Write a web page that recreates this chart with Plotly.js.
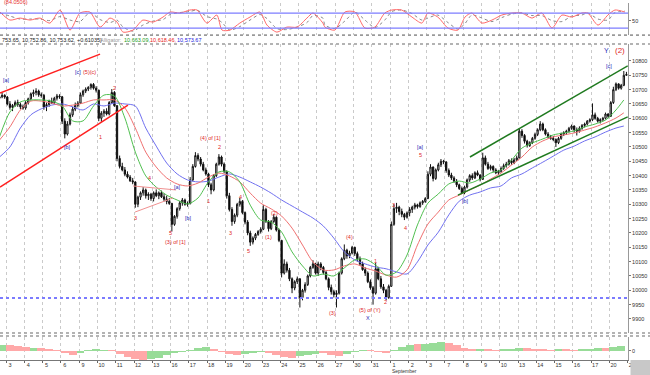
<!DOCTYPE html>
<html><head><meta charset="utf-8">
<script src="https://cdn.plot.ly/plotly-3.0.1.min.js"></script>
<style>html,body{margin:0;padding:0;background:#fff}#chart{width:650px;height:375px}</style>
</head><body><div id="chart"></div>
<script>
// ---------- DATA ----------
// day labels (one per trading day, 7 hourly bars per day), Aug 2 .. Sep 21 2010
const dayLabels = ["2","3","4","5","6","9","10","11","12","13","16","17","18","19","20","23","24","25","26","27","30","31","1","2","3","7","8","9","10","13","14","15","16","17","20","21"];

const open = [
10560,10650,10665,10660,10670,10675,10680,
10674,10650,10638,10645,10655,10648,10640,
10636,10655,10668,10685,10690,10695,10682,
10680,10640,10648,10660,10655,10670,10678,
10675,10590,10545,10580,10612,10632,10645,
10653,10682,10695,10702,10708,10718,10705,
10698,10600,10618,10625,10615,10655,10690,
10644,10460,10432,10420,10405,10395,10382,
10378,10300,10325,10340,10350,10330,10335,
10320,10340,10330,10340,10326,10318,10310,
10303,10230,10258,10285,10305,10315,10300,
10302,10385,10432,10470,10458,10440,10420,
10406,10368,10350,10400,10440,10465,10440,
10415,10330,10282,10240,10262,10300,10310,
10271,10238,10200,10168,10182,10195,10205,
10213,10282,10240,10215,10240,10255,10210,
10174,10060,10092,10070,10040,10008,10030,
10040,9975,10000,10020,10050,10080,10092,
10060,10092,10080,10062,10040,10010,9995,
9985,9990,10060,10110,10140,10120,10130,
10150,10128,10110,10092,10072,10060,10030,
10009,9990,10075,10040,10012,10000,9975,
10014,10230,10285,10290,10275,10265,10255,
10270,10282,10290,10298,10292,10305,10310,
10320,10405,10430,10390,10420,10438,10450,
10448,10418,10402,10392,10380,10368,10355,
10340,10360,10385,10400,10392,10410,10402,
10387,10462,10440,10425,10432,10420,10410,
10415,10425,10435,10440,10452,10445,10455,
10462,10555,10540,10520,10505,10515,10530,
10544,10560,10580,10560,10545,10535,10530,
10526,10515,10530,10545,10550,10555,10565,
10573,10560,10555,10565,10575,10580,10590,
10595,10612,10600,10590,10595,10600,10615,
10607,10655,10700,10720,10705,10715,10750];

const high = [
10655,10670,10668,10675,10682,10690,10684,
10678,10660,10650,10662,10665,10655,10648,
10660,10672,10690,10700,10705,10700,10690,
10685,10655,10665,10672,10675,10685,10684,
10678,10600,10590,10620,10640,10655,10660,
10690,10700,10708,10712,10722,10723,10712,
10700,10625,10632,10635,10660,10702,10695,
10646,10470,10445,10430,10415,10402,10392,
10380,10330,10345,10360,10355,10342,10340,
10345,10352,10345,10348,10338,10330,10322,
10305,10262,10290,10312,10322,10320,10310,
10395,10440,10482,10478,10465,10448,10428,
10410,10375,10405,10445,10475,10470,10446,
10418,10340,10290,10268,10305,10322,10315,
10275,10245,10208,10188,10200,10210,10220,
10297,10288,10245,10245,10265,10258,10215,
10176,10108,10100,10078,10045,10035,10048,
10042,10005,10028,10055,10085,10105,10096,
10100,10098,10085,10068,10045,10020,10002,
10000,10065,10115,10160,10145,10138,10155,
10152,10135,10118,10100,10080,10066,10038,
10015,10095,10082,10050,10022,10005,10020,
10240,10300,10305,10295,10285,10270,10275,
10290,10295,10305,10302,10310,10315,10325,
10415,10440,10432,10425,10445,10458,10455,
10450,10425,10410,10398,10388,10372,10362,
10365,10390,10405,10408,10415,10418,10405,
10480,10470,10448,10438,10436,10426,10420,
10432,10442,10448,10458,10460,10462,10470,
10565,10562,10545,10525,10520,10535,10550,
10565,10590,10585,10565,10552,10542,10538,
10530,10535,10550,10555,10560,10570,10578,
10575,10568,10572,10580,10585,10594,10600,
10652,10620,10605,10600,10605,10620,10618,
10660,10710,10725,10722,10720,10765,10762];

const low = [
10555,10645,10652,10655,10665,10670,10668,
10645,10630,10625,10640,10640,10632,10630,
10630,10648,10662,10675,10680,10675,10672,
10630,10625,10640,10650,10650,10662,10668,
10580,10530,10540,10575,10605,10625,10638,
10650,10675,10688,10695,10700,10700,10690,
10590,10588,10605,10610,10610,10650,10640,
10450,10425,10415,10398,10390,10378,10370,
10288,10290,10315,10330,10320,10315,10312,
10310,10325,10318,10322,10310,10300,10298,
10205,10225,10250,10278,10295,10295,10292,
10300,10380,10428,10450,10432,10415,10400,
10360,10335,10345,10395,10435,10432,10408,
10320,10275,10225,10232,10255,10292,10265,
10230,10192,10155,10160,10175,10190,10198,
10210,10235,10205,10210,10235,10205,10168,
10045,10055,10062,10032,9990,10000,10022,
9940,9965,9992,10015,10045,10075,10055,
10050,10070,10055,10035,10000,9985,9975,
9940,9985,10055,10105,10110,10112,10125,
10120,10100,10085,10068,10050,10025,10002,
9950,9985,10035,10005,9990,9965,9970,
10012,10225,10270,10262,10255,10245,10250,
10258,10270,10282,10285,10288,10298,10305,
10318,10398,10380,10385,10415,10430,10440,
10410,10395,10385,10375,10360,10350,10336,
10335,10355,10378,10385,10388,10398,10380,
10385,10435,10420,10418,10412,10405,10402,
10410,10420,10428,10435,10438,10440,10450,
10460,10532,10512,10498,10500,10510,10525,
10538,10555,10555,10540,10530,10525,10520,
10500,10510,10525,10538,10542,10550,10560,
10550,10540,10550,10560,10568,10575,10585,
10590,10595,10585,10582,10590,10596,10600,
10605,10650,10695,10700,10700,10712,10748];

const close = [
10650,10665,10660,10670,10675,10680,10674,
10650,10638,10645,10655,10648,10640,10636,
10655,10668,10685,10690,10695,10682,10680,
10640,10648,10660,10655,10670,10678,10675,
10590,10545,10580,10612,10632,10645,10653,
10682,10695,10702,10708,10718,10705,10698,
10600,10618,10625,10615,10655,10690,10644,
10460,10432,10420,10405,10395,10382,10378,
10300,10325,10340,10350,10330,10335,10320,
10340,10330,10340,10326,10318,10310,10303,
10230,10258,10285,10305,10315,10300,10302,
10385,10432,10470,10458,10440,10420,10406,
10368,10350,10400,10440,10465,10440,10415,
10330,10282,10240,10262,10300,10310,10271,
10238,10200,10168,10182,10195,10205,10213,
10282,10240,10215,10240,10255,10210,10174,
10060,10092,10070,10040,10008,10030,10040,
9975,10000,10020,10050,10080,10092,10060,
10092,10080,10062,10040,10010,9995,9985,
9990,10060,10110,10140,10120,10130,10150,
10128,10110,10092,10072,10060,10030,10009,
9990,10075,10040,10012,10000,9975,10014,
10230,10285,10290,10275,10265,10255,10270,
10282,10290,10298,10292,10305,10310,10320,
10405,10430,10390,10420,10438,10450,10448,
10418,10402,10392,10380,10368,10355,10340,
10360,10385,10400,10392,10410,10402,10387,
10462,10440,10425,10432,10420,10410,10415,
10425,10435,10440,10452,10445,10455,10462,
10555,10540,10520,10505,10515,10530,10544,
10560,10580,10560,10545,10535,10530,10526,
10515,10530,10545,10550,10555,10565,10573,
10560,10555,10565,10575,10580,10590,10595,
10612,10600,10590,10595,10600,10615,10607,
10655,10700,10720,10705,10715,10750,10753];

// Alligator lines, sampled every 4 bars (bar index)
const maX = [4,8,12,16,20,24,28,32,36,40,44,48,52,56,60,64,68,72,76,80,84,88,92,96,100,104,108,112,116,120,124,128,132,136,140,144,148,152,156,160,164,168,172,176,180,184,188,192,196,200,204,208,212,216,220,224,228,232,236,240,243];
const jaw = [10465,10500,10566,10612,10633,10646,10650,10640,10629,10650,10643,10653,10650,10643,10566,10503,10444,10406,10385,10378,10381,10395,10406,10395,10378,10360,10339,10315,10294,10273,10252,10224,10182,10134,10106,10092,10081,10075,10064,10057,10099,10158,10203,10263,10311,10332,10343,10357,10364,10392,10406,10427,10447,10468,10489,10503,10521,10535,10552,10566,10573];
const teeth = [10524,10570,10629,10660,10660,10653,10643,10646,10653,10664,10664,10664,10636,10566,10482,10430,10392,10371,10364,10374,10395,10409,10399,10378,10339,10304,10284,10259,10217,10158,10099,10071,10071,10085,10092,10078,10067,10053,10046,10071,10158,10231,10273,10315,10332,10350,10367,10388,10409,10437,10465,10500,10521,10535,10542,10549,10559,10570,10584,10601,10619];
const lips = [10535,10622,10657,10664,10664,10660,10643,10591,10591,10643,10681,10678,10601,10482,10399,10360,10332,10315,10301,10322,10378,10413,10413,10378,10297,10245,10238,10203,10134,10085,10050,10057,10050,10078,10106,10109,10088,10053,10064,10123,10228,10304,10336,10371,10381,10374,10388,10409,10420,10454,10496,10514,10528,10542,10549,10556,10570,10580,10594,10629,10664];

// Stochastic panel
const stochX = [4.2,8,11.9,15.7,19.5,23.3,27.2,31,34.8,38.6,42.5,46.3,49,51.3,55.1,58.9,62.8,66.6,69.3,73.1,76.9,79.6,83.4,87.2,89.2,92.2,96,99.9,103.7,106.4,110.2,114,117.9,121.7,124,127.8,128.6,132.4,136.2,140.1,143.9,147.7,151.5,154.2,158,161.9,165.7,168,171.8,175.7,179.5,182.2,184.8,188.7,192.5,196.3,200.1,204,207.8,211.6,215.5,219.3,223.1,226.9,229.2,233.1,236.9,239.6,243.4];
const stochK = [84,52,60,52,60,40,92,12,80,84,24,60,44,4,12,52,44,64,84,80,92,92,40,72,12,12,40,64,84,32,4,24,24,60,80,40,24,12,84,84,20,24,80,92,92,64,40,80,64,20,12,64,80,40,52,72,80,80,60,80,20,72,64,80,80,32,72,92,84];
const stochD = [80,68,56,56,56,50,66,52,46,82,54,42,52,24,8,32,48,54,74,82,86,92,66,56,42,12,26,52,74,58,18,14,24,42,70,60,32,18,48,84,52,22,52,86,92,78,52,60,72,42,16,38,72,60,46,62,76,80,70,70,50,46,68,72,80,56,52,82,88];
const stochLevels = [80, 20];

// Oscillator histogram (bottom panel), every 3 bars
const histX = [5,8,11,14,17,20,23,26,29,32,35,38,41,44,47,50,53,56,59,62,65,68,71,74,77,80,83,86,89,92,95,98,101,104,107,110,113,116,119,122,125,128,131,134,137,140,143,146,149,152,155,158,161,164,167,170,173,176,179,182,185,188,191,194,197,200,203,206,209,212,215,218,221,224,227,230,233,236,239,242];
const histV = [6,6,5,4,3,3,2,1,-2,-4,-2,1,2,1,1,-3,-6,-8,-9,-8,-7,-4,-2,-1,1,3,4,2,-1,-3,-4,-3,-2,-1,-2,-4,-6,-7,-5,-4,-3,-2,-4,-5,-3,-1,1,1,-1,-2,1,4,6,7,7,8,9,8,6,3,2,2,2,1,2,2,3,3,2,2,1,2,2,1,2,2,3,3,4,5];
const histDir = "grrrgrrrrr"+"ggggrrrrrg"+"gggggggrrr"+"rgggrrrrgg"+"grrrgggrrr"+"gggrgggrrr"+"rgrrgggrrr"+"rgrrgggrgg";

const supportLevel = 9973;
// trend lines [x0, p0, x1, p1]
const redChannel = [[4.2,10688,42.5,10824],[4.2,10360,53.2,10646]];
const greenChannel = [[184.1,10465,244.5,10783],[179.5,10332,244.5,10605]];
const pinkLines = [[55.1,10364,71.6,10350],[55.9,10273,70.4,10322]];

// wave labels: [text, bar x, price, colour kind]
const waveLabels = [
 ["[a]",6.5,10734,"b"],["[c]",34.1,10762,"b"],["(5)(c)",38.5,10762,"r"],
 ["2",48.2,10706,"r"],["[b]",30.2,10500,"b"],["1",42.5,10535,"r"],
 ["3",56.2,10252,"r"],["4",61.6,10392,"r"],["[a]",72.3,10360,"b"],
 ["[b]",76.5,10252,"b"],["5",69.6,10200,"r"],["(3) of [1]",71.2,10168,"r"],
 ["(4) of [1]",84.6,10531,"r"],["2",88.4,10500,"r"],["1",84.2,10311,"r"],
 ["3",92.6,10200,"r"],["4",96.4,10325,"r"],["5",99.5,10137,"r"],
 ["(2)",109.4,10270,"r"],["(1)",106.8,10186,"r"],["(4)",138.1,10186,"r"],
 ["(3)",131.3,9921,"r"],["1",148.1,10102,"r"],["(5) of (Y)",145.8,9931,"r"],
 ["X",145.0,9903,"b"],["2",151.9,9959,"r"],["3",155,10297,"r"],
 ["4",159.6,10217,"r"],["[a]",165.3,10500,"b"],["5",165.3,10472,"r"],
 ["[b]",182.5,10311,"b"],["[c]",237.3,10783,"b"],["Y",236.5,10838,"b"],["(2)",241.5,10838,"r"]
];
const headerText = ["753.65, 10,752.86, 10,753.62, +0.61035)", "Alligator:", "10,663.09,", "10,618.46,", "10,573.67"];
const stochValueText = "(84.0506)";

// ---------- BUILD ----------
const barsPerDay = 7;
const barX = close.map((_, i) => i);
const dayStarts = dayLabels.map((_, d) => d * barsPerDay - 0.5);
const xRange = [4.2, 244.6];
const RED = '#e02828', BLUE = '#2a2ab8';

const traces = [
  {type:'candlestick', x:barX, open:open, high:high, low:low, close:close, xaxis:'x2', yaxis:'y',
   increasing:{line:{color:'#111', width:1}, fillcolor:'#ffffff'},
   decreasing:{line:{color:'#111', width:1}, fillcolor:'#000000'},
   whiskerwidth:0, hoverinfo:'skip'},
  {type:'scatter', mode:'lines', x:maX, y:jaw, xaxis:'x2', yaxis:'y', line:{color:'#7070f0', width:1, shape:'spline', smoothing:0.8}, hoverinfo:'skip'},
  {type:'scatter', mode:'lines', x:maX, y:teeth, xaxis:'x2', yaxis:'y', line:{color:'#f07070', width:1, shape:'spline', smoothing:0.8}, hoverinfo:'skip'},
  {type:'scatter', mode:'lines', x:maX, y:lips, xaxis:'x2', yaxis:'y', line:{color:'#50c050', width:1, shape:'spline', smoothing:0.8}, hoverinfo:'skip'},
  {type:'scatter', mode:'lines', x:stochX, y:stochD, xaxis:'x3', yaxis:'y2', line:{color:'#888', width:1, dash:'dot', shape:'spline', smoothing:0.7}, hoverinfo:'skip'},
  {type:'scatter', mode:'lines', x:stochX, y:stochK, xaxis:'x3', yaxis:'y2', line:{color:'#ff6a6a', width:1, shape:'spline', smoothing:0.7}, hoverinfo:'skip'},
  {type:'bar', x:histX, y:histV, xaxis:'x', yaxis:'y3', width:3,
   marker:{color:histDir.split('').map(c => c === 'g' ? '#98dc98' : '#ffa8a8'), line:{width:0}}, hoverinfo:'skip'}
];

const shapes = [];
const seg = (s, color, width, dash) => shapes.push({type:'line', xref:'x2', yref:'y', x0:s[0], y0:s[1], x1:s[2], y1:s[3], line:{color, width, dash}});
redChannel.forEach(s => seg(s, '#ff2020', 1.5));
greenChannel.forEach(s => seg(s, '#1f7a1f', 1.5));
pinkLines.forEach(s => seg(s, '#f09090', 1));
shapes.push({type:'line', xref:'paper', yref:'y', x0:0, x1:1, y0:supportLevel, y1:supportLevel, line:{color:'#7b7bff', width:2, dash:'dot'}});
stochLevels.forEach(v => shapes.push({type:'line', xref:'paper', yref:'y2', x0:0, x1:1, y0:v, y1:v, line:{color:'#7d7dff', width:1.2}}));
// panel separators
[0.910, 0.885, 0.0756, 0.0672].forEach(py => shapes.push({type:'line', xref:'paper', yref:'paper', x0:0, x1:1.035, y0:py, y1:py, line:{color:'#9a9a9a', width:1.6, dash:'dot'}}));
shapes.push({type:'rect', xref:'paper', yref:'paper', x0:1.004, x1:1.04, y0:-0.05, y1:0, fillcolor:'#c8c8c8', line:{width:0}});

const annotations = waveLabels.map(l => ({
  xref:'x2', yref:'y', x:l[1], y:l[2], text:l[0], showarrow:false,
  font:{family:'Liberation Sans, Arial', size:5.5, color: l[3] === 'b' ? BLUE : RED}
}));
annotations[annotations.length-1].font.size = 8;
annotations[annotations.length-2].font.size = 7;
const hx = [0, 98/628, 122/628, 148/628, 175/628];
const hc = ['#222', '#999', '#1c9c1c', '#e82020', '#2020e0'];
headerText.forEach((t, i) => annotations.push({xref:'paper', yref:'paper', x:hx[i], y:0.896, xanchor:'left', yanchor:'middle', text:t, showarrow:false, font:{family:'Liberation Sans, Arial', size:5.5, color:hc[i]}}));
annotations.push({xref:'paper', yref:'paper', x:0.003, y:1.003, xanchor:'left', yanchor:'middle', text:stochValueText, showarrow:false, font:{family:'Liberation Sans, Arial', size:5.5, color:'#e83030'}});
annotations.push({xref:'x', yref:'paper', x:dayStarts[22], y:-0.031, xanchor:'left', yanchor:'middle', text:'September', showarrow:false, font:{family:'Liberation Sans, Arial', size:5, color:'#333'}});
annotations.push({xref:'x', yref:'paper', x:dayStarts[0]+1.5, y:-0.031, xanchor:'left', yanchor:'middle', text:'August', showarrow:false, font:{family:'Liberation Sans, Arial', size:5, color:'#333'}});

const gridAxis = {range:xRange, tickvals:dayStarts, showgrid:true, gridcolor:'#cacaca', griddash:'dot', gridwidth:1, zeroline:false, rangeslider:{visible:false}, fixedrange:true};
const smallFont = {family:'Liberation Sans, Arial', size:5.5, color:'#333'};
const mainTicks = [];
for (let v = 9900; v <= 10800; v += 50) mainTicks.push(v);

const layout = {
  width:650, height:375, margin:{l:0, r:22, t:3, b:15},
  paper_bgcolor:'#fff', plot_bgcolor:'#fff', showlegend:false, bargap:0,
  xaxis: Object.assign({}, gridAxis, {anchor:'y3', ticktext:dayLabels, showticklabels:true, ticks:'outside', ticklen:2, tickcolor:'#666', tickfont:smallFont, showline:true, linecolor:'#777', ticklabelshift:4, ticklabelstandoff:-3}),
  xaxis2: Object.assign({}, gridAxis, {anchor:'y', matches:'x', showticklabels:false, ticks:''}),
  xaxis3: Object.assign({}, gridAxis, {anchor:'y2', matches:'x', showticklabels:false, ticks:''}),
  yaxis: {domain:[0.0756, 0.885], range:[9851, 10859], side:'right', anchor:'x2', tickvals:mainTicks, tickformat:'d', tickfont:smallFont, ticks:'outside', ticklen:2, tickcolor:'#777', showline:true, linecolor:'#999', showgrid:false, zeroline:false, fixedrange:true},
  yaxis2: {domain:[0.910, 1.0], range:[-8, 120], side:'right', anchor:'x3', tickvals:[50], tickfont:smallFont, ticks:'outside', ticklen:2, tickcolor:'#777', showline:true, linecolor:'#999', showgrid:false, zeroline:false, fixedrange:true},
  yaxis3: {domain:[0, 0.0644], range:[-9, 14], side:'right', anchor:'x', tickvals:[0], tickfont:smallFont, ticks:'outside', ticklen:2, tickcolor:'#777', showline:true, linecolor:'#999', showgrid:false, zeroline:false, fixedrange:true},
  shapes: shapes,
  annotations: annotations
};

Plotly.newPlot('chart', traces, layout, {displayModeBar:false, staticPlot:true});
</script>
</body></html>
